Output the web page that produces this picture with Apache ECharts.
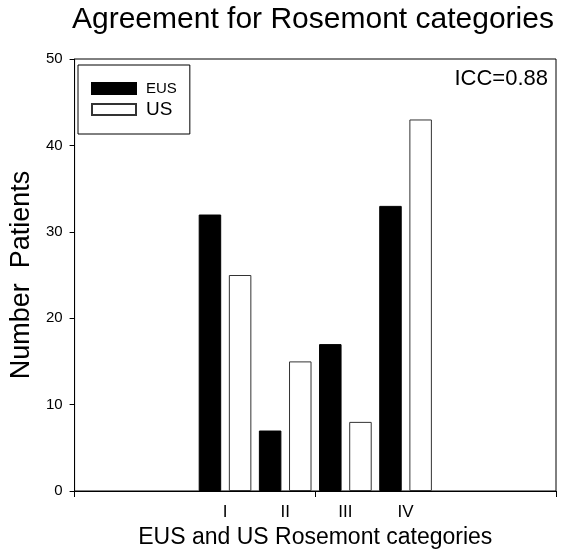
<!DOCTYPE html>
<html>
<head>
<meta charset="utf-8">
<script src="https://cdn.jsdelivr.net/npm/echarts@6/dist/echarts.min.js"></script>
<style>
  html, body { margin: 0; padding: 0; background: #fff; }
  #chart { width: 562px; height: 554px; }
</style>
</head>
<body>
<div id="chart"></div>
<script>
// Rosemont categories and patient counts per modality
const rosemont = ['I', 'II', 'III', 'IV']
const eusValues = [32, 7, 17, 33]
const usValues = [25, 15, 8, 43]
const yTicks = [0, 10, 20, 30, 40, 50]

// two empty slots on each side so the groups sit in the middle of the axis
const pad = ['', '']
const categories = pad.concat(rosemont, pad)
const padData = (arr) => [null, null].concat(arr, [null, null])

const font = '"Liberation Sans", Arial, sans-serif'
const chart = echarts.init(document.getElementById('chart'))

const option = {
  animation: false,
  title: {
    text: 'Agreement for Rosemont categories',
    left: 72,
    top: 5,
    padding: 0,
    textStyle: { fontFamily: font, fontSize: 30, fontWeight: 'normal', color: '#000' }
  },
  legend: {
    orient: 'vertical',
    left: 78,
    top: 65,
    padding: [16, 13, 15, 13],
    itemWidth: 44,
    itemHeight: 11,
    itemGap: 4,
    icon: 'rect',
    borderColor: '#000',
    borderWidth: 1,
    data: [
      { name: 'EUS', textStyle: { fontSize: 15 } },
      { name: 'US', textStyle: { fontSize: 19 } }
    ],
    textStyle: { fontFamily: font, color: '#000', padding: [0, 0, 0, 5] }
  },
  graphic: [{
    type: 'text',
    right: 14,
    top: 68,
    style: { text: 'ICC=0.88', fontFamily: font, fontSize: 22, fill: '#000' }
  }],
  grid: {
    left: 73,
    right: 6,
    top: 59,
    bottom: 63,
    show: true,
    borderColor: '#000',
    borderWidth: 1
  },
  xAxis: {
    type: 'category',
    data: categories,
    name: 'EUS and US Rosemont categories',
    nameLocation: 'middle',
    nameGap: 22,
    nameTextStyle: { fontFamily: font, fontSize: 23, color: '#000' },
    axisLine: { show: true, lineStyle: { color: '#000' } },
    axisTick: {
      show: true,
      length: 6,
      lineStyle: { color: '#000' },
      // only the two ends and the middle of the axis carry a tick
      interval: (idx) => idx % 4 === 0
    },
    axisLabel: { fontFamily: font, fontSize: 17, color: '#000', margin: 13, interval: 0 }
  },
  yAxis: {
    type: 'value',
    min: yTicks[0],
    max: yTicks[yTicks.length - 1],
    interval: 10,
    name: 'Number  Patients',
    nameLocation: 'middle',
    nameGap: 37,
    nameTextStyle: { fontFamily: font, fontSize: 27, color: '#000' },
    axisLine: { show: true, lineStyle: { color: '#000' } },
    axisTick: { show: true, length: 5, lineStyle: { color: '#000' } },
    splitLine: { show: false },
    axisLabel: { fontFamily: font, fontSize: 15, color: '#000', margin: 12 }
  },
  series: [
    {
      name: 'EUS',
      type: 'bar',
      data: padData(eusValues),
      barWidth: 22.5,
      barGap: '34%',
      itemStyle: { color: '#000', borderColor: '#000', borderWidth: 1 }
    },
    {
      name: 'US',
      type: 'bar',
      data: padData(usValues),
      barWidth: 22.5,
      barGap: '34%',
      itemStyle: { color: '#fff', borderColor: '#333', borderWidth: 1 }
    }
  ]
}

chart.setOption(option)
window.addEventListener('resize', () => chart.resize())
</script>
</body>
</html>
